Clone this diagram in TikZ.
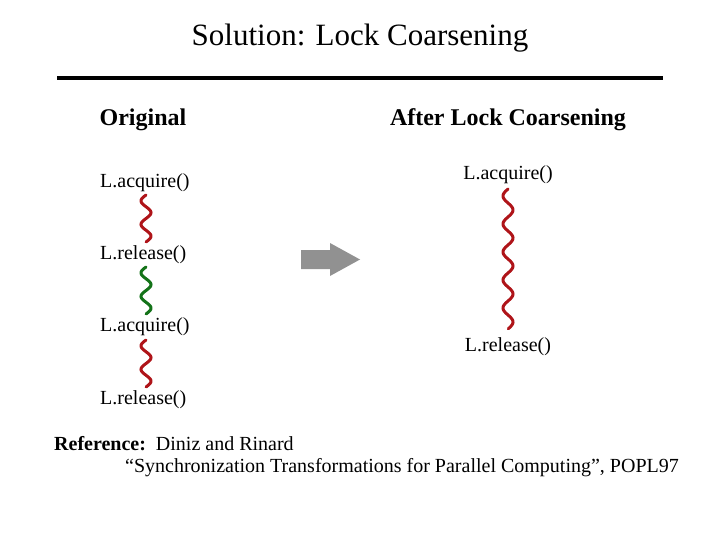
\documentclass[tikz,border=0pt]{standalone}
\usepackage{fontspec}
\setmainfont{Liberation Serif}
\definecolor{sqred}{RGB}{175,20,25}
\definecolor{sqgreen}{RGB}{20,115,25}
\definecolor{arrgray}{RGB}{145,145,145}
\begin{document}
\begin{tikzpicture}[x=1pt,y=-1pt,
  lbl/.style={font=\fontsize{20}{22}\selectfont,inner sep=0pt},
  hdr/.style={font=\fontsize{24}{26}\selectfont\bfseries,inner sep=0pt},
  wig/.style={line width=3pt,line cap=round}]
\useasboundingbox (0,0) rectangle (720,540);
\node[font=\fontsize{31}{33}\selectfont,inner sep=0pt] (title) at (360,38) {Solution: Lock Coarsening};
\draw[line width=4pt] (57,78) -- (663,78);
\node[hdr] (orig) at (143,120) {Original};
\node[hdr] (after) at (508,120) {After Lock Coarsening};
\node[lbl,anchor=west] (a1) at (100,183) {L.acquire()};
\node[lbl,anchor=west] (r1) at (100,255) {L.release()};
\node[lbl,anchor=west] (a2) at (100,327) {L.acquire()};
\node[lbl,anchor=west] (r2) at (100,400) {L.release()};
\node[lbl] (ra) at (508,175) {L.acquire()};
\node[lbl] (rr) at (508,347) {L.release()};
\draw[wig,sqred] plot[domain=0:1,samples=60,smooth] ({146-5*sin(\x*720)},{195+47*\x});
\draw[wig,sqgreen] plot[domain=0:1,samples=60,smooth] ({146-5*sin(\x*720)},{267+47*\x});
\draw[wig,sqred] plot[domain=0:1,samples=60,smooth] ({146-5*sin(\x*720)},{340+47*\x});
\draw[wig,sqred] plot[domain=0:1,samples=150,smooth] ({508-5*sin(\x*1800)},{189+140*\x});
\fill[arrgray] (301,250) -- (330,250) -- (330,243) -- (360,259.5) -- (330,276) -- (330,269) -- (301,269) -- cycle;
\node[lbl,anchor=west] (ref1) at (54,444) {\textbf{Reference:}\ \ Diniz and Rinard};
\node[lbl,anchor=west] (ref2) at (125,468) {“Synchronization Transformations for Parallel Computing”, POPL97};
\end{tikzpicture}
\end{document}
